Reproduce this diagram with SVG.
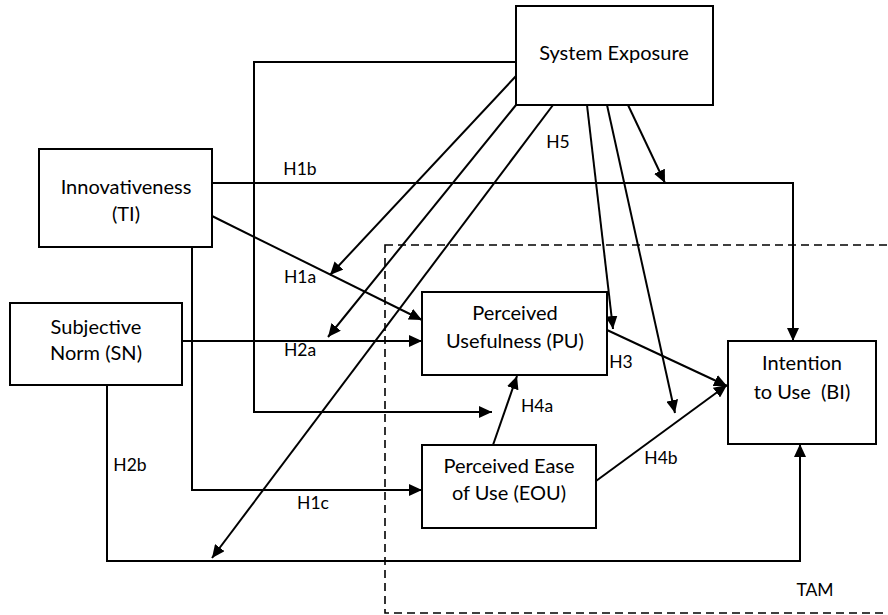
<svg xmlns="http://www.w3.org/2000/svg" width="888" height="615" viewBox="0 0 888 615">
<style>
.box{fill:#fff;stroke:#000;stroke-width:2}
.t{font-family:Lato,"Open Sans",sans-serif;font-size:20px;fill:#000;text-anchor:middle}
.l{font-family:Lato,"Open Sans",sans-serif;font-size:17.5px;fill:#000;text-anchor:middle}
.c{fill:none;stroke:#000;stroke-width:2;marker-end:url(#ah)}
</style>
<defs>
<marker id="ah" markerUnits="userSpaceOnUse" markerWidth="14" markerHeight="12" refX="13" refY="6" orient="auto">
<path d="M0,0 L13,6 L0,12 z" fill="#000"/>
</marker>
</defs>
<rect x="0" y="0" width="888" height="615" fill="#fff"/>
<g id="tam">
<rect x="385" y="245" width="520" height="368" fill="none" stroke="#000" stroke-width="1.6" stroke-dasharray="8,5"/>
<text class="l" x="815" y="596">TAM</text>
</g>
<g id="connectors">
<polyline class="c" points="516,62 254,62 254,412 492,412"/>
<polyline class="c" points="212,183 793,183 793,341"/>
<line class="c" x1="628" y1="105" x2="665" y2="183"/>
<polyline class="c" points="192,247 192,490 422,490"/>
<line class="c" x1="212" y1="216" x2="422" y2="320"/>
<line class="c" x1="182" y1="341" x2="422" y2="341"/>
<polyline class="c" points="107,385 107,561 800,561 800,444"/>
<line class="c" x1="516" y1="76" x2="330" y2="275"/>
<line class="c" x1="516" y1="105" x2="328" y2="337"/>
<line class="c" x1="553" y1="105" x2="212" y2="558"/>
<line class="c" x1="587" y1="105" x2="613" y2="329"/>
<line class="c" x1="607" y1="105" x2="675" y2="413"/>
<line class="c" x1="607" y1="330" x2="727" y2="386"/>
<line class="c" x1="596" y1="481" x2="727" y2="385"/>
<line class="c" x1="493" y1="445" x2="517" y2="376"/>
</g>
<g id="labels">
<text class="l" x="300" y="175">H1b</text>
<text class="l" x="558" y="148">H5</text>
<text class="l" x="300" y="283">H1a</text>
<text class="l" x="300" y="356">H2a</text>
<text class="l" x="621" y="368">H3</text>
<text class="l" x="537" y="412">H4a</text>
<text class="l" x="130" y="471">H2b</text>
<text class="l" x="313" y="509">H1c</text>
<text class="l" x="661" y="464">H4b</text>
</g>
<g id="system-exposure">
<rect class="box" x="516" y="6" width="197" height="99"/>
<text class="t" x="614" y="60">System Exposure</text>
</g>
<g id="innovativeness">
<rect class="box" x="39" y="149" width="173" height="98"/>
<text class="t" x="126" y="194">Innovativeness</text>
<text class="t" x="126" y="221">(TI)</text>
</g>
<g id="subjective-norm">
<rect class="box" x="10" y="303" width="172" height="82"/>
<text class="t" x="96" y="334">Subjective</text>
<text class="t" x="96" y="360">Norm (SN)</text>
</g>
<g id="perceived-usefulness">
<rect class="box" x="422" y="292" width="185" height="83"/>
<text class="t" x="515" y="320">Perceived</text>
<text class="t" x="515" y="348">Usefulness (PU)</text>
</g>
<g id="perceived-ease-of-use">
<rect class="box" x="422" y="445" width="174" height="83"/>
<text class="t" x="509" y="473">Perceived Ease</text>
<text class="t" x="509" y="500">of Use (EOU)</text>
</g>
<g id="intention-to-use">
<rect class="box" x="728" y="341" width="148" height="103"/>
<text class="t" x="802" y="370">Intention</text>
<text class="t" x="802" y="399" style="white-space:pre">to Use  (BI)</text>
</g>
</svg>
